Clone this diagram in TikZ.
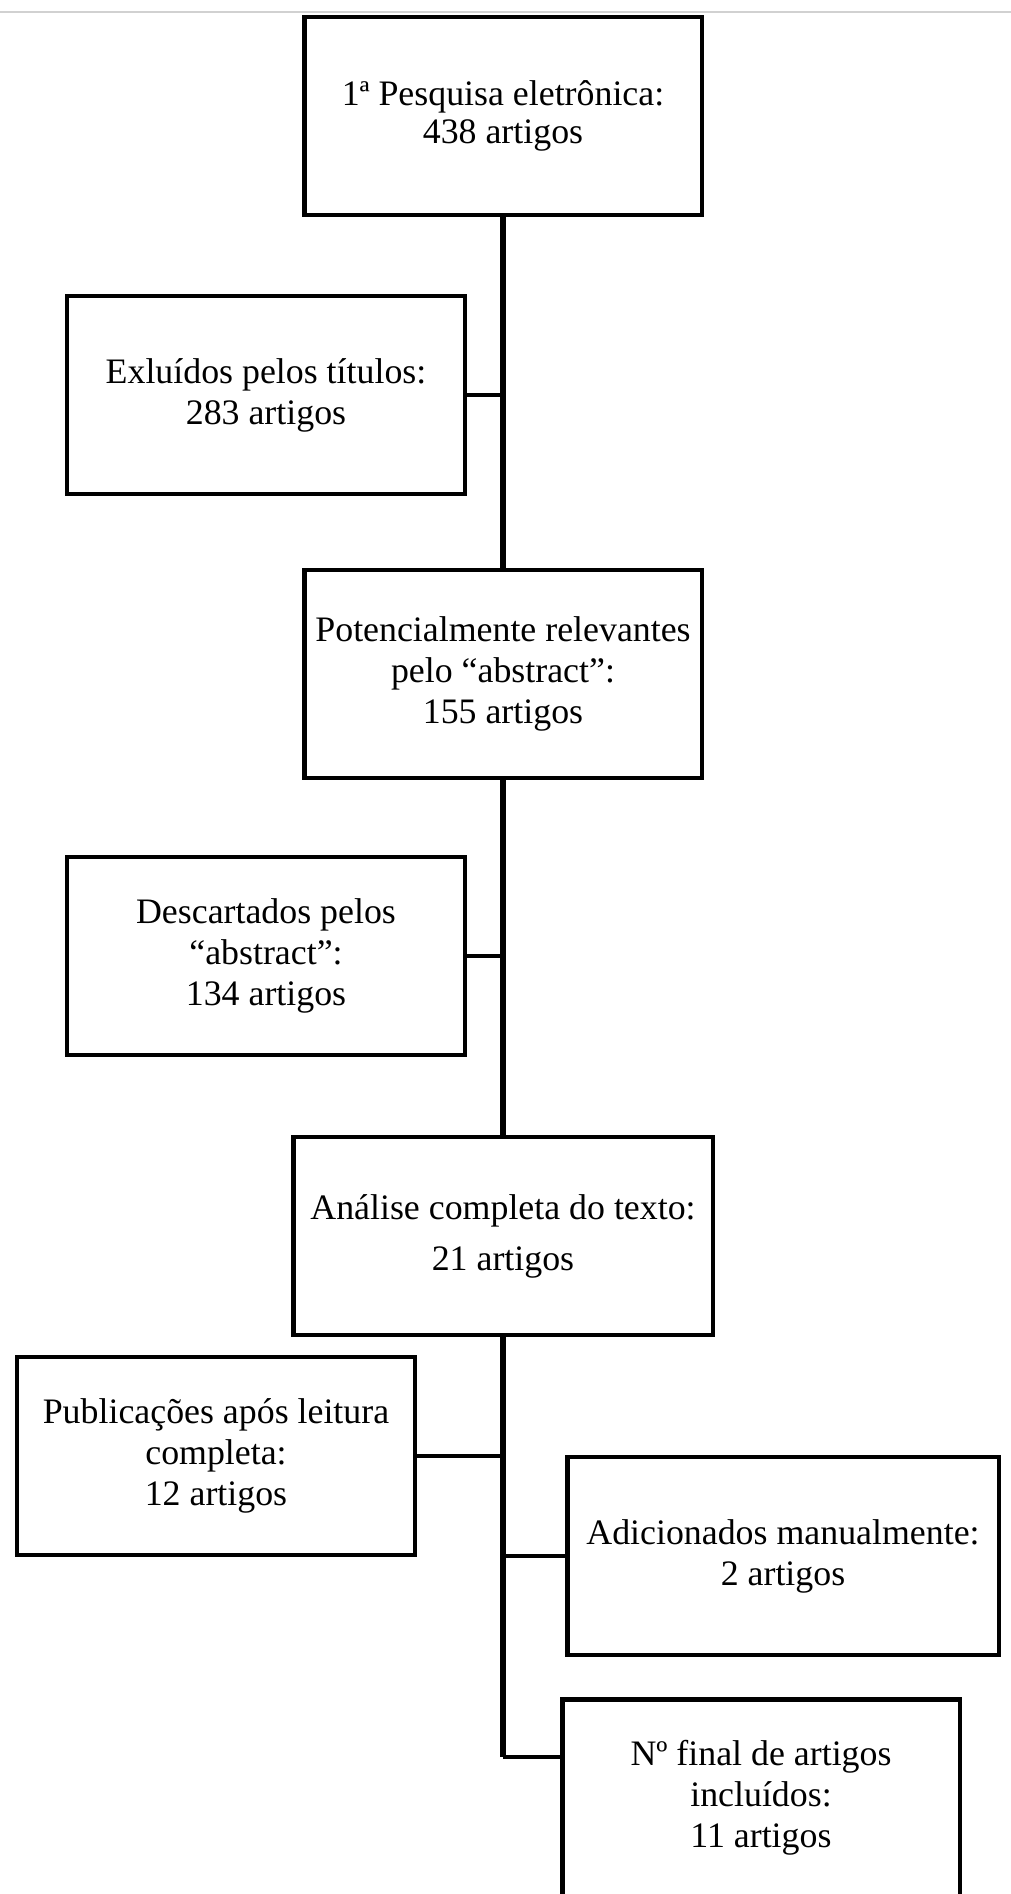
\documentclass[tikz,border=0pt]{standalone}
\usepackage{fontspec}
\setmainfont{Liberation Serif}

\tikzset{
  caixa/.style={draw, line width=2.8pt, align=center, inner sep=0pt,
    minimum width=7.96cm, minimum height=3.96cm,
    font=\fontsize{20.4}{23.3}\selectfont},
  liga/.style={line width=2.8pt},
  tronco/.style={line width=3.6pt},
}

\begin{document}
\begin{tikzpicture}[x=0.02cm, y=-0.02cm]
                \useasboundingbox (0,0) rectangle (1011,1894);
                \clip (0,0) rectangle (1011,1894);
                % Page line
                \draw[black!18, line width=1pt] (0,12) -- (1011,12);

                % Nodes
                \node[caixa, font=\fontsize{20.4}{21.5}\selectfont] (pesquisa) at (503,116) {1ª Pesquisa eletrônica:\\438 artigos};
                \node[caixa] (excluidos) at (266,395) {Exluídos pelos títulos:\\283 artigos};
                \node[caixa, minimum height=4.16cm] (relevantes) at (503,674) {Potencialmente relevantes\\pelo “abstract”:\\155 artigos};
                \node[caixa] (descartados) at (266,956) {Descartados pelos\\“abstract”:\\134 artigos};
                \node[caixa, minimum width=8.4cm, font=\fontsize{20.4}{29}\selectfont] (analise) at (503,1236) {Análise completa do texto:\\21 artigos};
                \node[caixa] (publicacoes) at (216,1456) {Publicações após leitura\\completa:\\12 artigos};
                \node[caixa, minimum width=8.64cm] (adicionados) at (783,1556) {Adicionados manualmente:\\2 artigos};
                \node[caixa] (final) at (761,1798) {Nº final de artigos\\incluídos:\\11 artigos};
                \coordinate (canto) at (503,1757);

                % Edges
                \draw[tronco] (pesquisa) -- (relevantes);
                \draw[tronco] (relevantes) -- (analise);
                \draw[tronco] (analise) -- (canto);
                \draw[liga] (excluidos.east) -- (excluidos -| pesquisa);
                \draw[liga] (descartados.east) -- (descartados -| relevantes);
                \draw[liga] (canto) -- (canto -| final.west);
                \draw[liga] (publicacoes.east) -- (publicacoes -| analise);
                \draw[liga] (adicionados.west) -- (adicionados -| analise);
            \end{tikzpicture}
\end{document}
